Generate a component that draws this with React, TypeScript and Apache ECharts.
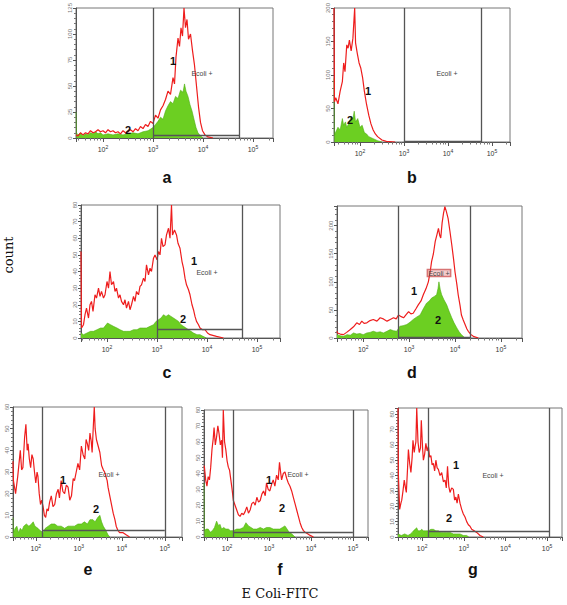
import React, { useEffect, useRef } from "react";
import * as echarts from "echarts";

// Histogram points: [log10(E Coli-FITC), count]
const redA = [[1.46,3],[1.5,2],[1.55,5],[1.6,3],[1.65,5],[1.7,4],[1.75,7],[1.8,5],[1.85,6],[1.9,8],[1.95,6],[2.0,7],[2.05,5],[2.1,8],[2.15,6],[2.2,7],[2.25,5],[2.3,6],[2.35,4],[2.4,7],[2.45,5],[2.5,6],[2.55,8],[2.6,6],[2.65,9],[2.7,7],[2.75,11],[2.8,9],[2.85,13],[2.9,11],[2.95,16],[3.0,14],[3.05,22],[3.1,19],[3.15,27],[3.2,31],[3.25,37],[3.3,45],[3.35,42],[3.4,58],[3.43,52],[3.46,78],[3.5,96],[3.53,88],[3.56,106],[3.59,98],[3.62,125],[3.65,106],[3.68,114],[3.71,95],[3.75,100],[3.79,84],[3.83,70],[3.87,50],[3.91,30],[3.95,15],[3.99,7],[4.04,3],[4.1,1],[4.2,0]];
const greenA = [[1.46,25],[1.47,5],[1.5,3],[1.55,5],[1.6,2],[1.65,4],[1.7,3],[1.75,5],[1.8,4],[1.85,6],[1.9,4],[1.95,5],[2.0,3],[2.1,4],[2.2,3],[2.3,4],[2.4,3],[2.5,4],[2.6,5],[2.7,4],[2.8,6],[2.9,7],[3.0,10],[3.05,13],[3.1,16],[3.15,20],[3.2,18],[3.25,26],[3.3,31],[3.35,35],[3.4,33],[3.45,40],[3.5,38],[3.55,46],[3.6,44],[3.63,52],[3.66,45],[3.7,40],[3.74,32],[3.78,26],[3.82,18],[3.86,10],[3.9,5],[3.95,2],[4.0,0]];
const redB = [[1.41,200],[1.42,60],[1.45,66],[1.5,57],[1.55,76],[1.6,90],[1.63,118],[1.66,105],[1.7,145],[1.73,140],[1.76,152],[1.8,136],[1.84,155],[1.88,200],[1.9,148],[1.94,132],[1.98,118],[2.02,110],[2.06,96],[2.1,76],[2.15,56],[2.2,40],[2.25,27],[2.3,18],[2.35,12],[2.4,8],[2.5,3],[2.6,1],[2.8,0]];
const greenB = [[1.41,95],[1.42,10],[1.45,15],[1.5,22],[1.55,18],[1.6,35],[1.63,25],[1.67,30],[1.7,22],[1.75,28],[1.8,38],[1.84,35],[1.87,46],[1.9,30],[1.95,35],[2.0,22],[2.05,25],[2.1,14],[2.15,12],[2.2,8],[2.3,5],[2.4,2],[2.5,0]];
const redC = [[1.48,52],[1.49,6],[1.53,8],[1.56,14],[1.59,18],[1.63,12],[1.66,20],[1.69,22],[1.72,16],[1.76,26],[1.79,24],[1.83,30],[1.86,25],[1.89,28],[1.93,24],[1.96,26],[2.0,34],[2.03,30],[2.06,40],[2.09,32],[2.13,34],[2.16,28],[2.19,30],[2.23,24],[2.26,26],[2.29,22],[2.33,20],[2.36,23],[2.39,18],[2.43,22],[2.46,17],[2.49,20],[2.53,25],[2.56,22],[2.59,28],[2.63,26],[2.66,31],[2.69,32],[2.73,36],[2.76,34],[2.79,44],[2.83,38],[2.86,42],[2.89,40],[2.93,48],[2.96,50],[3.0,47],[3.03,52],[3.06,50],[3.09,60],[3.12,55],[3.16,56],[3.19,62],[3.23,66],[3.26,60],[3.29,80],[3.31,62],[3.35,65],[3.39,62],[3.42,57],[3.46,54],[3.5,46],[3.53,42],[3.56,36],[3.59,32],[3.63,29],[3.66,26],[3.7,20],[3.73,17],[3.76,13],[3.79,10],[3.83,8],[3.86,6],[3.91,5],[3.96,5],[4.01,3],[4.06,2],[4.19,1],[4.33,0]];
const greenC = [[1.48,3],[1.53,2],[1.6,3],[1.67,4],[1.73,4],[1.8,5],[1.87,6],[1.93,6],[2.01,9],[2.07,8],[2.13,7],[2.2,6],[2.26,5],[2.33,4],[2.39,4],[2.46,4],[2.53,5],[2.6,5],[2.66,6],[2.73,6],[2.79,6],[2.86,7],[2.93,8],[2.98,10],[3.03,11],[3.08,12],[3.13,14],[3.18,13],[3.23,14],[3.28,13],[3.33,12],[3.38,11],[3.43,10],[3.48,8],[3.53,7],[3.58,6],[3.63,5],[3.68,4],[3.73,3],[3.8,2],[3.86,2],[3.92,1],[3.99,0]];
const redD = [[1.43,12],[1.44,9],[1.5,7],[1.57,6],[1.64,10],[1.72,15],[1.79,20],[1.86,27],[1.92,24],[1.97,30],[2.02,26],[2.08,27],[2.15,31],[2.22,33],[2.3,30],[2.37,36],[2.44,34],[2.52,30],[2.59,33],[2.66,36],[2.72,34],[2.77,41],[2.83,38],[2.88,36],[2.94,42],[2.99,47],[3.04,43],[3.09,44],[3.15,52],[3.2,59],[3.26,66],[3.31,77],[3.37,88],[3.42,100],[3.46,118],[3.49,136],[3.53,150],[3.57,172],[3.61,185],[3.64,195],[3.67,182],[3.69,178],[3.72,205],[3.75,222],[3.78,234],[3.81,226],[3.85,213],[3.89,190],[3.93,166],[3.97,140],[4.0,118],[4.04,96],[4.07,77],[4.11,58],[4.14,41],[4.18,32],[4.22,24],[4.26,16],[4.29,12],[4.35,6],[4.4,3],[4.51,0]];
const greenD = [[1.43,6],[1.5,4],[1.57,3],[1.65,6],[1.72,5],[1.79,9],[1.86,7],[1.93,8],[2.0,6],[2.08,9],[2.15,10],[2.22,12],[2.3,10],[2.37,11],[2.44,9],[2.52,12],[2.59,15],[2.66,13],[2.73,12],[2.8,21],[2.87,22],[2.95,24],[3.02,28],[3.09,33],[3.16,37],[3.24,41],[3.31,52],[3.38,62],[3.44,66],[3.49,71],[3.55,74],[3.6,77],[3.63,88],[3.65,100],[3.68,86],[3.71,77],[3.76,68],[3.82,59],[3.87,48],[3.93,36],[3.98,27],[4.04,18],[4.09,11],[4.14,6],[4.18,3],[4.22,0]];
const redE = [[1.47,35],[1.48,26],[1.53,20],[1.58,28],[1.61,34],[1.64,40],[1.67,31],[1.7,32],[1.74,46],[1.77,52],[1.8,40],[1.82,43],[1.85,36],[1.88,32],[1.91,38],[1.94,36],[1.97,30],[2.0,25],[2.03,30],[2.05,28],[2.08,20],[2.11,15],[2.14,17],[2.17,14],[2.2,10],[2.23,9],[2.26,13],[2.29,12],[2.32,16],[2.36,19],[2.4,14],[2.44,15],[2.48,20],[2.52,22],[2.55,18],[2.59,26],[2.63,21],[2.67,20],[2.71,24],[2.75,23],[2.79,17],[2.83,19],[2.87,27],[2.9,26],[2.94,30],[2.98,34],[3.02,31],[3.06,42],[3.1,38],[3.14,36],[3.17,45],[3.2,43],[3.23,40],[3.26,48],[3.29,44],[3.31,39],[3.34,52],[3.36,60],[3.38,50],[3.41,45],[3.45,42],[3.49,39],[3.53,33],[3.57,31],[3.6,30],[3.63,28],[3.66,26],[3.68,23],[3.71,20],[3.74,17],[3.77,14],[3.8,11],[3.84,8],[3.87,5],[3.91,3],[3.95,2],[4.03,2],[4.1,1],[4.18,0]];
const greenE = [[1.47,9],[1.48,2],[1.52,4],[1.56,5],[1.6,2],[1.64,4],[1.68,3],[1.72,5],[1.78,6],[1.84,5],[1.9,6],[1.94,7],[1.98,5],[2.05,4],[2.1,3],[2.17,2],[2.22,4],[2.29,5],[2.36,6],[2.44,6],[2.51,5],[2.59,5],[2.67,4],[2.75,5],[2.83,5],[2.9,5],[2.98,6],[3.06,6],[3.13,7],[3.2,6],[3.26,8],[3.33,8],[3.38,7],[3.44,9],[3.49,10],[3.53,7],[3.57,5],[3.6,4],[3.63,3],[3.68,1],[3.72,0]];
const redF = [[1.45,45],[1.46,44],[1.49,36],[1.52,32],[1.55,38],[1.58,36],[1.61,44],[1.64,55],[1.67,62],[1.69,69],[1.72,58],[1.75,63],[1.78,70],[1.81,65],[1.84,58],[1.87,61],[1.89,50],[1.91,80],[1.94,60],[1.97,55],[2.0,48],[2.03,44],[2.06,42],[2.09,36],[2.12,30],[2.15,23],[2.19,20],[2.23,17],[2.27,14],[2.31,13],[2.35,15],[2.39,14],[2.43,16],[2.47,19],[2.51,15],[2.55,17],[2.59,21],[2.63,22],[2.67,20],[2.71,25],[2.75,22],[2.79,23],[2.83,27],[2.87,29],[2.91,26],[2.94,34],[2.98,30],[3.02,29],[3.06,33],[3.1,36],[3.14,32],[3.18,39],[3.22,36],[3.25,47],[3.28,40],[3.3,36],[3.34,40],[3.38,41],[3.42,37],[3.46,34],[3.5,32],[3.54,29],[3.58,25],[3.62,21],[3.66,17],[3.7,13],[3.74,9],[3.78,6],[3.82,4],[3.86,3],[3.92,2],[3.98,1],[4.06,0]];
const greenF = [[1.45,34],[1.46,4],[1.5,5],[1.55,5],[1.6,3],[1.65,4],[1.7,6],[1.75,10],[1.8,7],[1.83,8],[1.87,5],[1.92,6],[1.97,5],[2.03,5],[2.08,4],[2.15,4],[2.23,5],[2.31,5],[2.39,6],[2.45,9],[2.51,7],[2.57,6],[2.63,5],[2.71,5],[2.79,6],[2.87,5],[2.94,6],[3.02,6],[3.1,5],[3.18,5],[3.26,5],[3.32,6],[3.38,7],[3.43,5],[3.48,3],[3.54,2],[3.62,0]];
const redG = [[1.42,84],[1.43,40],[1.46,18],[1.49,22],[1.51,24],[1.54,30],[1.57,37],[1.6,32],[1.62,29],[1.65,45],[1.67,57],[1.7,48],[1.73,42],[1.76,52],[1.78,63],[1.81,55],[1.83,59],[1.85,62],[1.87,84],[1.9,62],[1.93,55],[1.96,58],[1.98,76],[2.01,58],[2.03,50],[2.06,54],[2.09,61],[2.12,56],[2.15,59],[2.18,52],[2.21,53],[2.24,47],[2.27,48],[2.3,43],[2.33,50],[2.36,45],[2.39,44],[2.43,40],[2.47,42],[2.51,36],[2.55,37],[2.58,32],[2.61,46],[2.64,33],[2.67,29],[2.71,32],[2.75,31],[2.78,24],[2.81,26],[2.84,22],[2.87,28],[2.91,22],[2.95,18],[2.99,15],[3.03,13],[3.07,10],[3.11,8],[3.15,7],[3.19,5],[3.25,4],[3.31,3],[3.39,1],[3.47,0]];
const greenG = [[1.42,2],[1.5,1],[1.58,2],[1.66,1],[1.72,2],[1.76,3],[1.79,4],[1.83,5],[1.87,6],[1.9,4],[1.95,4],[1.99,5],[2.03,4],[2.08,4],[2.15,4],[2.21,5],[2.27,5],[2.33,4],[2.39,4],[2.45,3],[2.51,3],[2.59,3],[2.67,3],[2.75,2],[2.83,2],[2.91,2],[2.99,1],[3.07,1],[3.12,0]];

// Axis ranges (log10 channel) and count axes
const panelLetters = ["a", "b", "c", "d", "e", "f", "g"];
const xLogRange = [[1.46, 5.4], [1.41, 5.41], [1.48, 5.46], [1.43, 5.46], [1.47, 5.4], [1.45, 5.36], [1.42, 5.36]];
const yMaxes = [125, 200, 80, 235, 60, 80, 84];
const yIntervals = [25, 50, 10, 50, 10, 10, 10];
// Gate "Ecoli +": [low log10, high log10, count level of the bottom bar]
const gates = [[3.0, 4.72, 2.2], [3.0, 4.75, 1], [3.0, 4.7, 5.4], [2.76, 4.33, 1], [2.16, 5.0, 3.2], [2.14, 5.0, 3.1], [2.14, 5.05, 3.9]];
const reds = [redA, redB, redC, redD, redE, redF, redG];
const greens = [greenA, greenB, greenC, greenD, greenE, greenF, greenG];

// Layout (pixels)
const grids = [
  { left: 76, top: 4, width: 197, height: 134 },
  { left: 334, top: 2, width: 176, height: 140 },
  { left: 81, top: 205, width: 199, height: 133 },
  { left: 337, top: 206, width: 185, height: 132 },
  { left: 13, top: 407, width: 169, height: 130 },
  { left: 204, top: 410, width: 164, height: 127 },
  { left: 398, top: 408, width: 164, height: 129 },
];
const letterPos = [[167, 177], [412, 177], [167, 372], [412, 372], [88, 569], [280, 569], [473, 569]];
const oneLabelPos = [[173, 61], [368, 91], [194, 261], [414, 291], [63, 480], [269, 480], [456, 465]];
const twoLabelPos = [[128, 130], [350, 120], [183, 319], [438, 320], [96, 509], [282, 508], [449, 518]];
const gateLabelPos = [[202, 73], [447, 73], [207, 272], [439, 273], [109, 474], [298, 474], [493, 475]];

const toXY = (pts: number[][]) => pts.map(([e, c]) => [Math.pow(10, e), c]);

export default function App() {
  const ref = useRef<HTMLDivElement>(null);
  useEffect(() => {
    if (!ref.current) return;
    const chart = echarts.init(ref.current, undefined, { renderer: "svg" });
    const axisColor = "#555";
    const xAxis = xLogRange.map((r, i) => ({
      type: "log",
      logBase: 10,
      gridIndex: i,
      min: Math.pow(10, r[0]),
      max: Math.pow(10, r[1]),
      axisLine: { lineStyle: { color: axisColor, width: 1 } },
      axisTick: { length: 4, lineStyle: { color: axisColor } },
      minorTick: { show: true, splitNumber: 8, length: 2.5, lineStyle: { color: "#777" } },
      splitLine: { show: false },
      minorSplitLine: { show: false },
      axisLabel: {
        showMinLabel: false,
        showMaxLabel: false,
        margin: 6,
        formatter: (v: number) => `{b|10}{s|${Math.round(Math.log10(v))}}`,
        rich: {
          b: { fontSize: 7, color: "#333", fontFamily: "Liberation Sans" },
          s: { fontSize: 5, color: "#333", fontFamily: "Liberation Sans", padding: [0, 0, 5, 0] },
        },
      },
    }));
    const yAxis = yMaxes.map((m, i) => ({
      type: "value",
      gridIndex: i,
      min: 0,
      max: m,
      interval: yIntervals[i],
      axisLine: { show: true, lineStyle: { color: axisColor, width: 1 } },
      axisTick: { show: true, length: 3, lineStyle: { color: axisColor } },
      minorTick: { show: true, splitNumber: 5, length: 2, lineStyle: { color: "#777" } },
      splitLine: { show: false },
      axisLabel: {
        rotate: 90,
        fontSize: 6,
        color: "#777",
        margin: 3,
        showMaxLabel: m % yIntervals[i] === 0,
        fontFamily: "Liberation Sans",
      },
    }));
    const series: any[] = [];
    reds.forEach((red, i) => {
      const g = gates[i];
      series.push({
        type: "line",
        name: "2",
        xAxisIndex: i,
        yAxisIndex: i,
        data: toXY(greens[i]),
        symbol: "none",
        lineStyle: { color: "#4fae12", width: 0.6 },
        areaStyle: { color: "#6ccf22", opacity: 1 },
        z: 2,
        markLine: {
          silent: true,
          symbol: ["none", "none"],
          label: { show: false },
          lineStyle: { color: "#555", width: 1.3, type: "solid" },
          data: [
            { xAxis: Math.pow(10, g[0]) },
            { xAxis: Math.pow(10, g[1]) },
            [{ coord: [Math.pow(10, g[0]), g[2]] }, { coord: [Math.pow(10, g[1]), g[2]] }],
          ],
        },
      });
      series.push({
        type: "line",
        name: "1",
        xAxisIndex: i,
        yAxisIndex: i,
        data: toXY(red),
        symbol: "none",
        lineStyle: { color: "#ee1d1d", width: 1.2 },
        z: 3,
      });
    });
    const graphic: any[] = [];
    panelLetters.forEach((l, i) => {
      graphic.push({
        type: "text", x: letterPos[i][0], y: letterPos[i][1],
        style: { text: l, font: "bold 16px 'Liberation Sans'", fill: "#111", align: "center", verticalAlign: "middle" },
      });
      graphic.push({
        type: "text", x: oneLabelPos[i][0], y: oneLabelPos[i][1], z: 10,
        style: { text: "1", font: "bold 11px 'Liberation Sans'", fill: "#111", align: "center", verticalAlign: "middle" },
      });
      graphic.push({
        type: "text", x: twoLabelPos[i][0], y: twoLabelPos[i][1], z: 10,
        style: { text: "2", font: "bold 11px 'Liberation Sans'", fill: "#111", align: "center", verticalAlign: "middle" },
      });
      graphic.push({
        type: "text", x: gateLabelPos[i][0], y: gateLabelPos[i][1], z: 10,
        style: {
          text: "Ecoli +", font: "7px 'Liberation Sans'", fill: "#444", align: "center", verticalAlign: "middle",
          ...(i === 3 ? { backgroundColor: "rgba(220,110,110,0.35)", borderColor: "rgba(200,60,60,0.7)", borderWidth: 0.8, padding: [0, 1] } : {}),
        },
      });
    });
    graphic.push({
      type: "text", x: 8, y: 255, rotation: Math.PI / 2,
      style: { text: "count", font: "13px 'DejaVu Serif'", fill: "#111", align: "center", verticalAlign: "middle" },
    });
    graphic.push({
      type: "text", x: 280, y: 593,
      style: { text: "E Coli-FITC", font: "13px 'DejaVu Serif'", fill: "#111", align: "center", verticalAlign: "middle" },
    });
    chart.setOption({
      animation: false,
      backgroundColor: "#fff",
      grid: grids.map((g) => ({ ...g, show: true, borderColor: "#777", borderWidth: 1, backgroundColor: "transparent" })),
      xAxis,
      yAxis,
      series,
      graphic,
    });
    return () => chart.dispose();
  }, []);
  return <div ref={ref} style={{ position: "fixed", left: 0, top: 0, width: 567, height: 605 }} />;
}
